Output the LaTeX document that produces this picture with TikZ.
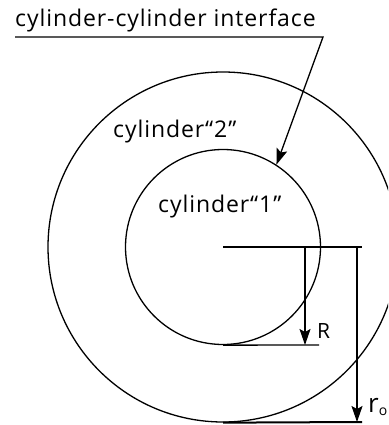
\documentclass[tikz,border=0pt]{standalone}
\usepackage{fontspec}
\setmainfont{Open Sans}[LetterSpace=4]
\usetikzlibrary{arrows.meta,positioning}

\begin{document}
\begin{tikzpicture}[
    x=1pt, y=-1pt,
    cyl/.style={draw, circle, line width=1.3pt, inner sep=0pt},
    arr/.style={line width=1.3pt, -{Stealth[length=16pt,width=11pt,inset=3pt]}},
    ln/.style={line width=1.3pt},
    lbl/.style={anchor=base west, inner sep=0pt, font=\fontsize{23}{27}\selectfont}
  ]
    \useasboundingbox (0,0) rectangle (388,425);
    \clip (0,0) rectangle (388,425);
    % the two cylinders
    \node[cyl, minimum size=350pt] (outer) at (223,247) {};
    \node[cyl, minimum size=195pt] (inner) at (223,247) {};
    \node[lbl] (top) at (15,27) {cylinder-cylinder interface};
    \node[lbl] (two) at (113,137) {cylinder“2”};
    \node[lbl] (one) at (158,212) {cylinder“1”};
    % leader to the interface
    \coordinate (lead) at (15,37);
    \coordinate (kink) at (323,37);
    \draw[arr] (lead) -- (kink) -- (inner.57);
    % radii
    \coordinate (mid) at (362,247);
    \coordinate (rend) at (319,345);
    \coordinate (oend) at (362,422);
    \draw[ln] (outer.center) -- (mid);
    \draw[ln] (inner.south) -- (rend);
    \draw[ln, line width=2pt] (outer.south) -- (oend);
    \coordinate (rtop) at (305,247);
    \coordinate (rbot) at (305,345);
    \coordinate (otop) at (357,247);
    \coordinate (obot) at (357,422);
    \draw[arr] (rtop) -- (rbot);
    \draw[arr] (otop) -- (obot);
    \node[lbl, font=\fontsize{21}{24}\selectfont] (rlab) at (317,338) {R};
    \node[lbl, font=\fontsize{26}{30}\selectfont] (olab) at (368,412) {r\raisebox{-3pt}{\fontsize{14}{14}\selectfont o}};
\end{tikzpicture}
\end{document}
